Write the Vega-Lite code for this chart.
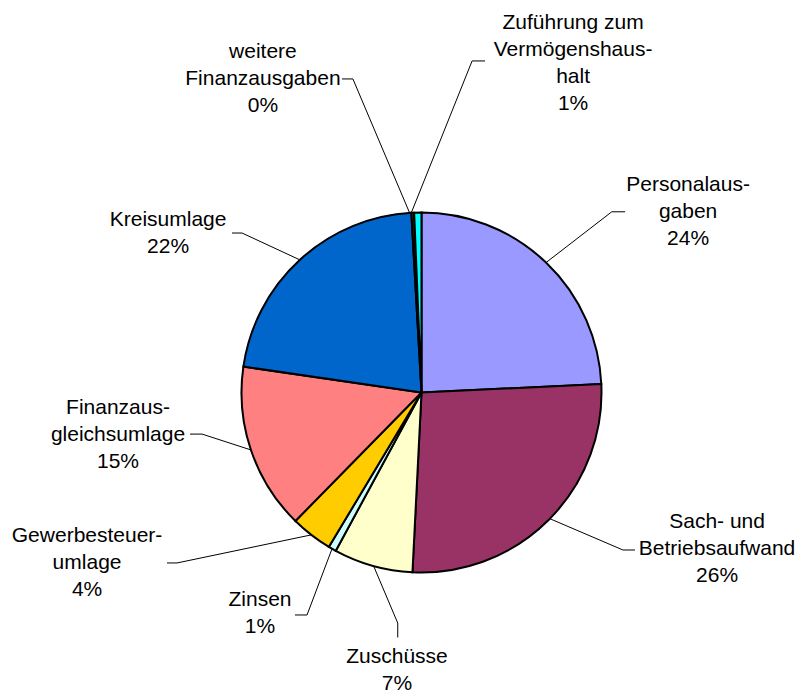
{
  "$schema": "https://vega.github.io/schema/vega-lite/v6.json",
  "width": 759,
  "height": 605,
  "autosize": {"type": "none"},
  "padding": {"left": 42, "top": 90, "right": 0, "bottom": 0},
  "background": "white",
  "config": {"view": {"stroke": null}, "font": "Liberation Sans"},
  "datasets": {
    "slices": [
      {"category": "Personalausgaben", "share": 24.25, "rank": 1},
      {"category": "Sach- und Betriebsaufwand", "share": 26.55, "rank": 2},
      {"category": "Zuschüsse", "share": 7.1, "rank": 3},
      {"category": "Zinsen", "share": 0.7, "rank": 4},
      {"category": "Gewerbesteuerumlage", "share": 3.75, "rank": 5},
      {"category": "Finanzausgleichsumlage", "share": 14.95, "rank": 6},
      {"category": "Kreisumlage", "share": 21.8, "rank": 7},
      {"category": "weitere Finanzausgaben", "share": 0.25, "rank": 8},
      {"category": "Zuführung zum Vermögenshaushalt", "share": 0.65, "rank": 9}
    ],
    "labels": [
      {"category": "Personalausgaben", "label": "Personalaus-\ngaben\n24%", "lx": 148.1, "ly": 115.3},
      {"category": "Sach- und Betriebsaufwand", "label": "Sach- und\nBetriebsaufwand\n26%", "lx": 164.2, "ly": -71.9},
      {"category": "Zuschüsse", "label": "Zuschüsse\n7%", "lx": -13.6, "ly": -146.9},
      {"category": "Zinsen", "label": "Zinsen\n1%", "lx": -89.7, "ly": -115.3},
      {"category": "Gewerbesteuerumlage", "label": "Gewerbesteuer-\numlage\n4%", "lx": -185.8, "ly": -79.7},
      {"category": "Finanzausgleichsumlage", "label": "Finanzaus-\ngleichsumlage\n15%", "lx": -168.6, "ly": -8.6},
      {"category": "Kreisumlage", "label": "Kreisumlage\n22%", "lx": -140.8, "ly": 95.8},
      {"category": "weitere Finanzausgaben", "label": "weitere\nFinanzausgaben\n0%", "lx": -88.1, "ly": 189.2},
      {"category": "Zuführung zum Vermögenshaushalt", "label": "Zuführung zum\nVermögenshaus-\nhalt\n1%", "lx": 84.2, "ly": 205.3}
    ],
    "leaders": [
      {"category": "Personalausgaben", "step": 0, "lx": 69.2, "ly": 72.2},
      {"category": "Personalausgaben", "step": 1, "lx": 105.7, "ly": 100.4},
      {"category": "Personalausgaben", "step": 2, "lx": 113.1, "ly": 100.4},
      {"category": "Sach- und Betriebsaufwand", "step": 0, "lx": 71.3, "ly": -70.1},
      {"category": "Sach- und Betriebsaufwand", "step": 1, "lx": 111.9, "ly": -87.5},
      {"category": "Sach- und Betriebsaufwand", "step": 2, "lx": 118.6, "ly": -87.5},
      {"category": "Zuschüsse", "step": 0, "lx": -26.6, "ly": -96.4},
      {"category": "Zuschüsse", "step": 1, "lx": -13.2, "ly": -128.1},
      {"category": "Zuschüsse", "step": 2, "lx": -13.2, "ly": -136.1},
      {"category": "Zinsen", "step": 0, "lx": -49.7, "ly": -86.8},
      {"category": "Zinsen", "step": 1, "lx": -63.6, "ly": -123.6},
      {"category": "Zinsen", "step": 2, "lx": -70.3, "ly": -123.6},
      {"category": "Gewerbesteuerumlage", "step": 0, "lx": -61.2, "ly": -79.1},
      {"category": "Gewerbesteuerumlage", "step": 1, "lx": -135.8, "ly": -94.7},
      {"category": "Gewerbesteuerumlage", "step": 2, "lx": -141.4, "ly": -94.7},
      {"category": "Finanzausgleichsumlage", "step": 0, "lx": -94.8, "ly": -31.9},
      {"category": "Finanzausgleichsumlage", "step": 1, "lx": -121.9, "ly": -23.1},
      {"category": "Finanzausgleichsumlage", "step": 2, "lx": -128.6, "ly": -23.1},
      {"category": "Kreisumlage", "step": 0, "lx": -67.6, "ly": 73.7},
      {"category": "Kreisumlage", "step": 1, "lx": -99.7, "ly": 88.6},
      {"category": "Kreisumlage", "step": 2, "lx": -105.3, "ly": 88.6},
      {"category": "weitere Finanzausgaben", "step": 0, "lx": -6.7, "ly": 100.0},
      {"category": "weitere Finanzausgaben", "step": 1, "lx": -38.1, "ly": 174.2},
      {"category": "weitere Finanzausgaben", "step": 2, "lx": -44.2, "ly": 174.2},
      {"category": "Zuführung zum Vermögenshaushalt", "step": 0, "lx": -5.6, "ly": 100.0},
      {"category": "Zuführung zum Vermögenshaushalt", "step": 1, "lx": 28.1, "ly": 184.2},
      {"category": "Zuführung zum Vermögenshaushalt", "step": 2, "lx": 35.3, "ly": 184.2}
    ]
  },
  "layer": [
    {
      "data": {"name": "leaders"},
      "mark": {"type": "line", "color": "black", "strokeWidth": 1},
      "encoding": {
        "x": {"field": "lx", "type": "quantitative", "scale": {"domain": [-210.83, 210.83], "nice": false, "zero": false}, "axis": null},
        "y": {"field": "ly", "type": "quantitative", "scale": {"domain": [-168.06, 168.06], "nice": false, "zero": false}, "axis": null},
        "detail": {"field": "category", "type": "nominal"},
        "order": {"field": "step", "type": "quantitative"}
      }
    },
    {
      "data": {"name": "slices"},
      "mark": {"type": "arc", "outerRadius": 180, "stroke": "black", "strokeWidth": 2},
      "encoding": {
        "theta": {"field": "share", "type": "quantitative", "stack": true},
        "order": {"field": "rank", "type": "quantitative"},
        "color": {
          "field": "category",
          "type": "nominal",
          "legend": null,
          "scale": {
            "domain": ["Personalausgaben", "Sach- und Betriebsaufwand", "Zuschüsse", "Zinsen", "Gewerbesteuerumlage", "Finanzausgleichsumlage", "Kreisumlage", "weitere Finanzausgaben", "Zuführung zum Vermögenshaushalt"],
            "range": ["#9999FF", "#993366", "#FFFFCC", "#CCFFFF", "#FFCC00", "#FF8080", "#0066CC", "#333300", "#00FFFF"]
          }
        }
      }
    },
    {
      "data": {"name": "labels"},
      "mark": {"type": "text", "fontSize": 21, "lineBreak": "\n", "lineHeight": 27, "color": "black", "align": "center", "baseline": "middle"},
      "encoding": {
        "x": {"field": "lx", "type": "quantitative"},
        "y": {"field": "ly", "type": "quantitative"},
        "text": {"field": "label", "type": "nominal"}
      }
    }
  ]
}
